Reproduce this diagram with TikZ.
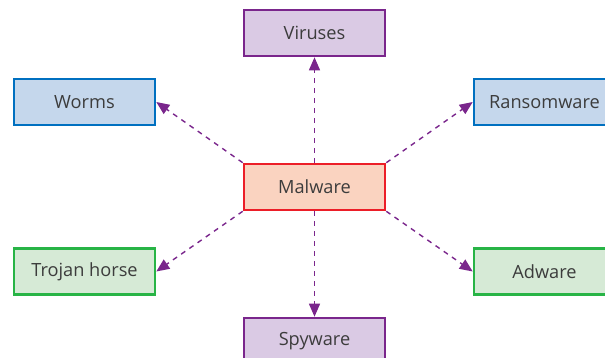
\documentclass[tikz,border=0pt]{standalone}
\usepackage{fontspec}
\setmainfont{Open Sans}
\definecolor{mwpurple}{RGB}{122,38,140}
\definecolor{mwlilac}{RGB}{218,202,228}
\definecolor{mwblue}{RGB}{0,112,192}
\definecolor{mwsky}{RGB}{197,215,236}
\definecolor{mwred}{RGB}{236,30,40}
\definecolor{mwpeach}{RGB}{250,211,192}
\definecolor{mwgreen}{RGB}{40,180,70}
\definecolor{mwmint}{RGB}{214,234,214}
\definecolor{mwtext}{RGB}{60,60,60}
\usetikzlibrary{arrows.meta}

\begin{document}
\begin{tikzpicture}[x=1pt, y=-1pt,
  box/.style={draw, line width=2.6pt, minimum width=141pt, minimum height=46pt, inner sep=0pt,
    font=\fontsize{18.2}{20}\selectfont, text=mwtext},
  purplebox/.style={box, draw=mwpurple, fill=mwlilac},
  bluebox/.style={box, draw=mwblue, fill=mwsky},
  greenbox/.style={box, draw=mwgreen, fill=mwmint},
  redbox/.style={box, draw=mwred, fill=mwpeach},
  link/.style={draw=mwpurple, line width=1.4pt, dash pattern=on 5pt off 5pt,
    -{Triangle[length=13pt, width=11pt]}}]
  \useasboundingbox (0,0) rectangle (605,358);
  \clip (0,0) rectangle (605,358);

  % centre
  \node[redbox] (mal) at (314.5,187) {Malware};

  % kinds of malware
  \node[purplebox] (vir) at (314.5,33) {Viruses};
  \node[purplebox] (spy) at (314.5,341) {Spyware};
  \node[bluebox] (wor) at (84.5,102) {Worms};
  \node[bluebox] (ran) at (544.5,102) {Ransomware};
  \node[greenbox] (tro) at (84.5,271.5) {Trojan horse};
  \node[greenbox] (adw) at (544.5,271.5) {Adware};

  % links
  \draw[link] (mal.north) -- (vir.south);
  \draw[link] (mal.south) -- (spy.north);
  \draw[link] (mal.north west) -- (wor.east);
  \draw[link] (mal.north east) -- (ran.west);
  \draw[link] (mal.south west) -- (tro.east);
  \draw[link] (mal.south east) -- (adw.west);
\end{tikzpicture}
\end{document}
